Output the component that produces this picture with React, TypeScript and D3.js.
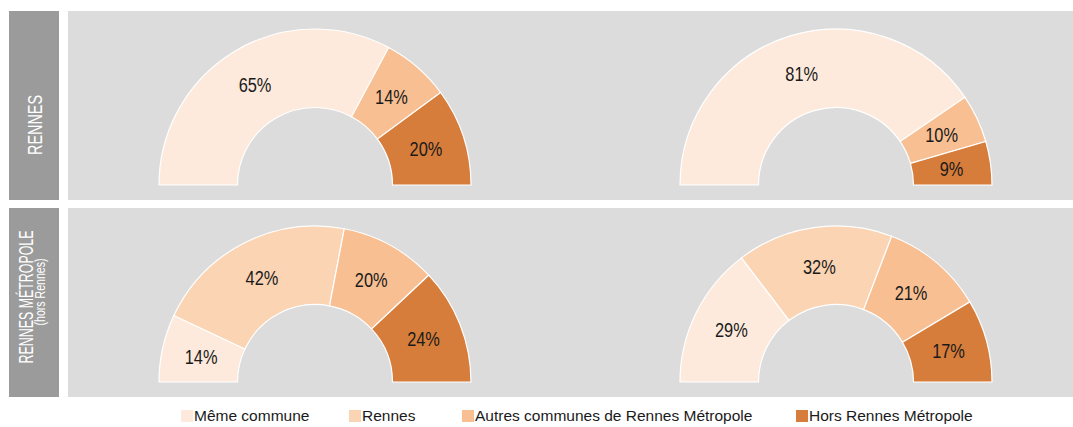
import React from 'react';
import * as d3 from 'd3';

// categories and values (percentages)
const categories = ['Même commune', 'Rennes', 'Autres communes de Rennes Métropole', 'Hors Rennes Métropole'];
const colors = ['#fdeadc', '#fbd4b4', '#f8bf93', '#d67d3b'];

const rowLabels = ['RENNES', 'RENNES MÉTROPOLE'];
const rowSubLabels = ['', '(hors Rennes)'];

const rennesLeft = [65, 0, 14, 20];
const rennesRight = [81, 0, 10, 9];
const metroLeft = [14, 42, 20, 24];
const metroRight = [29, 32, 21, 17];

const rows = [
  [rennesLeft, rennesRight],
  [metroLeft, metroRight],
];

const W = 1073;
const H = 427;

const font = '"Liberation Sans", Arial, sans-serif';

function Gauge({ values, cx, cy }: { values: number[]; cx: number; cy: number }) {
  const outer = 156;
  const inner = 77.5;
  const pie = d3
    .pie<number>()
    .sort(null)
    .value((d) => d)
    .startAngle(-Math.PI / 2)
    .endAngle(Math.PI / 2);
  const arc = d3.arc<d3.PieArcDatum<number>>().innerRadius(inner).outerRadius(outer);
  const arcs = pie(values);
  return (
    <g transform={`translate(${cx},${cy})`}>
      {arcs.map((a, i) =>
        a.data > 0 ? (
          <path key={i} d={arc(a) || ''} fill={colors[i]} stroke="#ffffff" strokeWidth={1.2} />
        ) : null
      )}
      {arcs.map((a, i) => {
        if (a.data <= 0) return null;
        const [x, y] = arc.centroid(a);
        return (
          <text
            key={'t' + i}
            transform={`translate(${x},${y}) scale(0.8,1)`}
            textAnchor="middle"
            dominantBaseline="central"
            fontFamily={font}
            fontSize={20.5}
            fill="#1a1a1a"
          >
            {a.data}%
          </text>
        );
      })}
    </g>
  );
}

export default function App() {
  const rowTop = [11, 208];
  const rowH = 189;
  const colX = d3.scalePoint<number>().domain([0, 1]).range([315, 836]);
  const legendX = [194, 362, 475, 809];

  return (
    <svg
      width={W}
      height={H}
      style={{ position: 'absolute', left: 0, top: 0, background: '#ffffff' }}
    >
      {rows.map((row, r) => (
        <g key={r}>
          <rect x={9} y={rowTop[r]} width={50} height={rowH} fill="#9b9b9b" />
          <rect x={68} y={rowTop[r]} width={W - 68} height={rowH} fill="#dcdcdc" />
          {row.map((vals, c) => (
            <Gauge key={c} values={vals} cx={colX(c) as number} cy={rowTop[r] + 174} />
          ))}
        </g>
      ))}

      {/* row labels */}
      <text
        transform="translate(42,125) rotate(-90)"
        textAnchor="middle"
        fontFamily={font}
        fontSize={21}
        fill="#ffffff"
        textLength={60}
        lengthAdjust="spacingAndGlyphs"
      >
        {rowLabels[0]}
      </text>
      <text
        transform="translate(33,297) rotate(-90)"
        textAnchor="middle"
        fontFamily={font}
        fontSize={20}
        fill="#ffffff"
        textLength={133}
        lengthAdjust="spacingAndGlyphs"
      >
        {rowLabels[1]}
      </text>
      <text
        transform="translate(44.5,292) rotate(-90)"
        textAnchor="middle"
        fontFamily={font}
        fontSize={14}
        fill="#ffffff"
        textLength={67}
        lengthAdjust="spacingAndGlyphs"
      >
        {rowSubLabels[1]}
      </text>

      {/* legend */}
      {categories.map((cat, i) => (
        <g key={cat}>
          <rect x={legendX[i] - 13} y={410} width={12} height={12} fill={colors[i]} />
          <text x={legendX[i]} y={421} fontFamily={font} fontSize={15.5} fill="#1a1a1a">
            {cat}
          </text>
        </g>
      ))}
    </svg>
  );
}
